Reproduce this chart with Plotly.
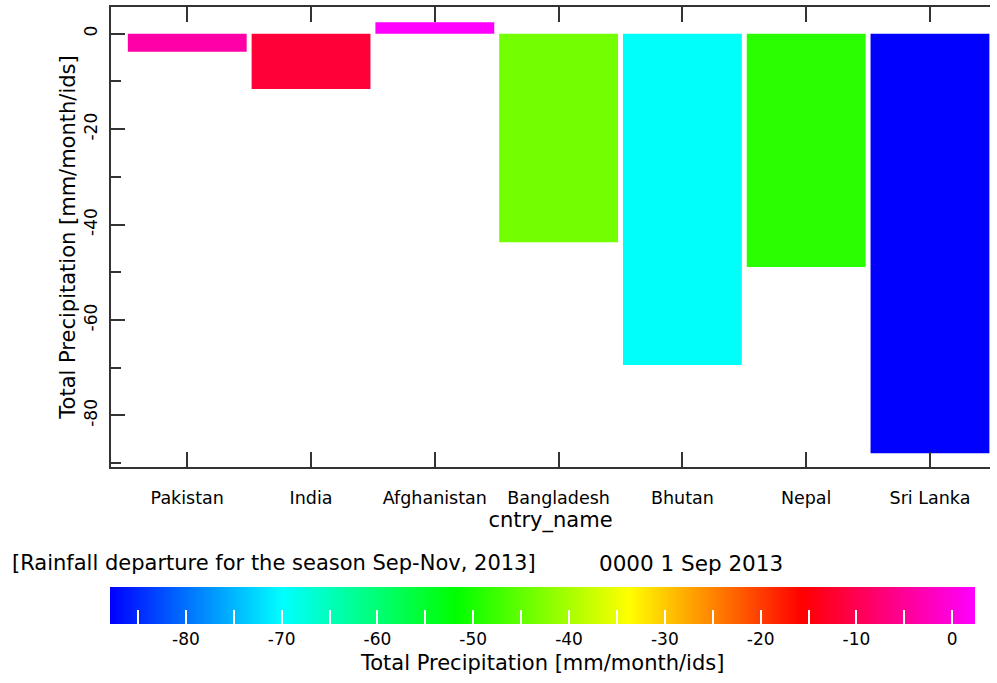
import plotly.graph_objects as go

# ---- data ----
countries = ["Pakistan", "India", "Afghanistan", "Bangladesh", "Bhutan", "Nepal", "Sri Lanka"]
departure = [-3.8, -11.6, 2.4, -43.7, -69.4, -48.9, -87.9]

y_tickvals = [0, -20, -40, -60, -80]
y_ticktext = ["0", "-20", "-40", "-60", "-80"]
cb_tickvals = [-85, -80, -75, -70, -65, -60, -55, -50, -45, -40, -35, -30, -25, -20, -15, -10, -5, 0]
cb_ticktext = ["", "-80", "", "-70", "", "-60", "", "-50", "", "-40", "", "-30", "", "-20", "", "-10", "", "0"]

header_left = "[Rainfall departure for the season Sep-Nov, 2013]"
header_right = "0000 1 Sep 2013"
value_title = "Total Precipitation [mm/month/ids]"

# ---- layout geometry (pixels) ----
W, H = 997, 683
L, R, T, B = 111, 7, 7, 216
PW, PH = W - L - R, H - T - B

def px_x(x):
    return (x - L) / PW

def px_y(y):
    return (H - B - y) / PH

FONT = "DejaVu Sans"
AX = "#333333"

colorscale = [
    [0.0, "#0000ff"],
    [0.2, "#00ffff"],
    [0.4, "#00ff00"],
    [0.6, "#ffff00"],
    [0.8, "#ff0000"],
    [1.0, "#ff00ff"],
]

fig = go.Figure()
fig.add_trace(go.Bar(
    x=countries,
    y=departure,
    marker=dict(
        color=departure,
        colorscale=colorscale,
        line=dict(width=0),
        showscale=True,
        colorbar=dict(
            orientation="h",
            xref="container", yref="container",
            x=125 / W, xanchor="left",
            y=1 - 587 / H, yanchor="top",
            lenmode="pixels", len=865,
            thickness=37,
            xpad=0, ypad=0,
            outlinewidth=0,
            tickmode="array",
            tickvals=cb_tickvals,
            ticktext=cb_ticktext,
            ticklabeloverflow="allow",
            ticks="inside", ticklen=14, tickwidth=2, tickcolor="white",
            tickfont=dict(family=FONT, size=17, color="black"),
            title=dict(text=value_title, side="bottom",
                       font=dict(family=FONT, size=21, color="black")),
        ),
    ),
    showlegend=False,
    hoverinfo="x+y",
))

fig.update_layout(
    width=W, height=H,
    margin=dict(l=L, r=R, t=T, b=B, autoexpand=False),
    paper_bgcolor="white", plot_bgcolor="white",
    font=dict(family=FONT, color="black"),
    bargap=0.04,
    xaxis=dict(
        type="category",
        range=[-0.616, 6.485],
        showgrid=False, zeroline=False,
        showline=True, linecolor=AX, linewidth=2,
        mirror="ticks",
        ticks="inside", ticklen=15, tickwidth=2, tickcolor=AX,
        tickfont=dict(family=FONT, size=17.5),
        ticklabelstandoff=14,
        title=dict(text="cntry_name", font=dict(family=FONT, size=21), standoff=1),
    ),
    yaxis=dict(
        range=[-90.8, 5.6],
        showgrid=False, zeroline=False,
        showline=True, linecolor=AX, linewidth=2,
        mirror=False,
        tickmode="array", tickvals=y_tickvals, ticktext=y_ticktext,
        ticks="inside", ticklen=14, tickwidth=2, tickcolor=AX,
        tickangle=-90,
        ticklabelstandoff=5,
        tickfont=dict(family=FONT, size=17),
        minor=dict(dtick=10, tick0=0, ticks="inside", ticklen=10, tickwidth=2, tickcolor=AX),
        title=dict(text=value_title, font=dict(family=FONT, size=21), standoff=0),
    ),
    yaxis2=dict(
        overlaying="y", side="right", anchor="x",
        range=[-90.8, 5.6],
        showgrid=False, zeroline=False, showline=False,
        tickmode="array", tickvals=y_tickvals,
        ticks="outside", ticklen=8, tickwidth=2, tickcolor=AX,
        showticklabels=False,
        minor=dict(dtick=10, tick0=0, ticks="outside", ticklen=4, tickwidth=2, tickcolor=AX),
    ),
    annotations=[
        dict(text=header_left, xref="paper", yref="paper",
             x=px_x(10), y=px_y(563), xanchor="left", yanchor="middle",
             showarrow=False, font=dict(family=FONT, size=21, color="black")),
        dict(text=header_right, xref="paper", yref="paper",
             x=px_x(597), y=px_y(563), xanchor="left", yanchor="middle",
             showarrow=False, font=dict(family=FONT, size=21.5, color="black")),
    ],
)

fig.write_html(
    "out.html",
    config={"displayModeBar": False},
    post_script="document.body.style.margin='0';document.body.style.overflow='hidden';",
)
